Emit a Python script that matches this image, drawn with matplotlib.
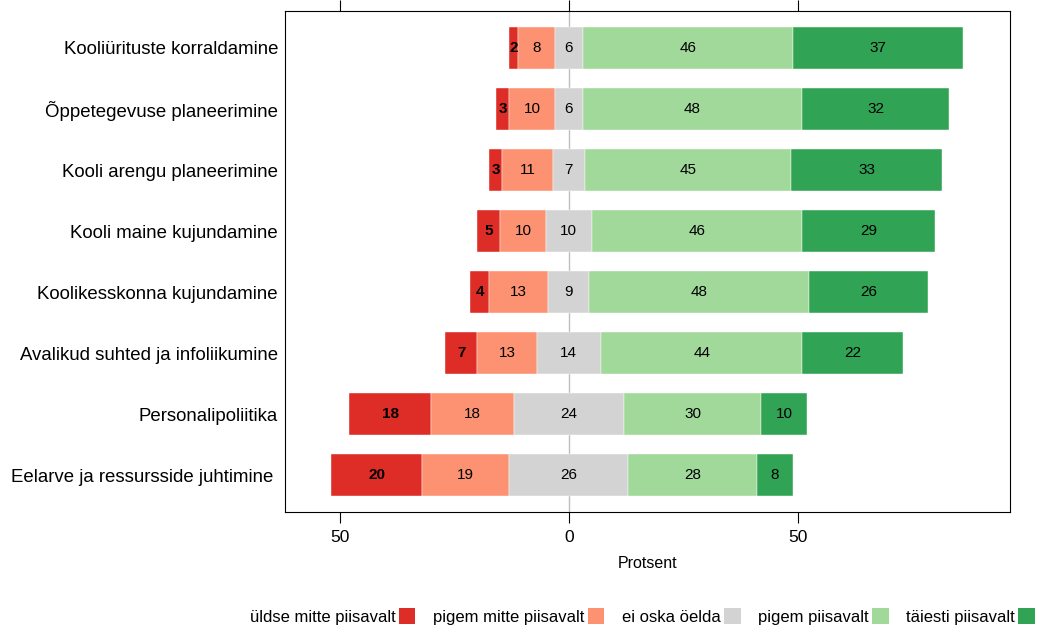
import numpy as np
import matplotlib.pyplot as plt
from matplotlib.patches import Patch

plt.rcParams['font.family'] = ['Liberation Sans', 'DejaVu Sans']

# categories from top to bottom
items = ['Kooliürituste korraldamine', 'Õppetegevuse planeerimine',
         'Kooli arengu planeerimine', 'Kooli maine kujundamine',
         'Koolikesskonna kujundamine', 'Avalikud suhted ja infoliikumine',
         'Personalipoliitika', 'Eelarve ja ressursside juhtimine ']

levels = ['üldse mitte piisavalt', 'pigem mitte piisavalt', 'ei oska öelda',
          'pigem piisavalt', 'täiesti piisavalt']
colors = ['#DE2D26', '#FC9272', '#D3D3D3', '#A1D99B', '#31A354']

not_at_all = [2, 3, 3, 5, 4, 7, 18, 20]
rather_not = [8, 10, 11, 10, 13, 13, 18, 19]
dont_know = [6, 6, 7, 10, 9, 14, 24, 26]
rather_yes = [46, 48, 45, 46, 48, 44, 30, 28]
fully = [37, 32, 33, 29, 26, 22, 10, 8]


def main():
    data = np.array([not_at_all, rather_not, dont_know, rather_yes, fully], dtype=float)
    y = np.arange(len(items))

    fig = plt.figure(figsize=(10.4, 6.26), dpi=100)
    ax = fig.add_axes([0.274, 0.182, 0.697, 0.800])

    # neutral category is split around zero
    left = -(data[0] + data[1] + data[2] / 2)
    ax.axvline(0, color='#BEBEBE', lw=1, zorder=0)
    for k in range(len(levels)):
        ax.barh(y, data[k], left=left, height=0.69, color=colors[k],
                edgecolor='white', linewidth=0.3, zorder=2)
        for i in range(len(items)):
            ax.text(left[i] + data[k][i] / 2, y[i], '%d' % data[k][i],
                    ha='center', va='center', fontsize=11,
                    fontweight='bold' if k == 0 else 'normal', zorder=3)
        left = left + data[k]

    ax.set_yticks(y)
    ax.set_yticklabels(items, fontsize=13.4)
    ax.tick_params(axis='y', length=0, pad=5)
    ax.set_ylim(len(items) - 0.4, -0.6)
    ax.set_xlim(-62, 96.3)
    ax.set_xticks([-50, 0, 50])
    ax.set_xticklabels(['50', '0', '50'], fontsize=12.5)
    ax.tick_params(axis='x', direction='out', length=8, top=True, labeltop=False, pad=5)
    ax.set_xlabel('Protsent', fontsize=11.5, labelpad=8)

    handles = [Patch(facecolor=c) for c in colors]
    fig.legend(handles, levels, loc='lower right', bbox_to_anchor=(1.0, -0.006),
               ncol=5, frameon=False, markerfirst=False, fontsize=12,
               handlelength=1.0, handleheight=1.1, handletextpad=0.2,
               columnspacing=1.05, borderpad=0.2, borderaxespad=0.1)

    fig.savefig('out.png', dpi=100)


if __name__ == "__main__":
    main()
